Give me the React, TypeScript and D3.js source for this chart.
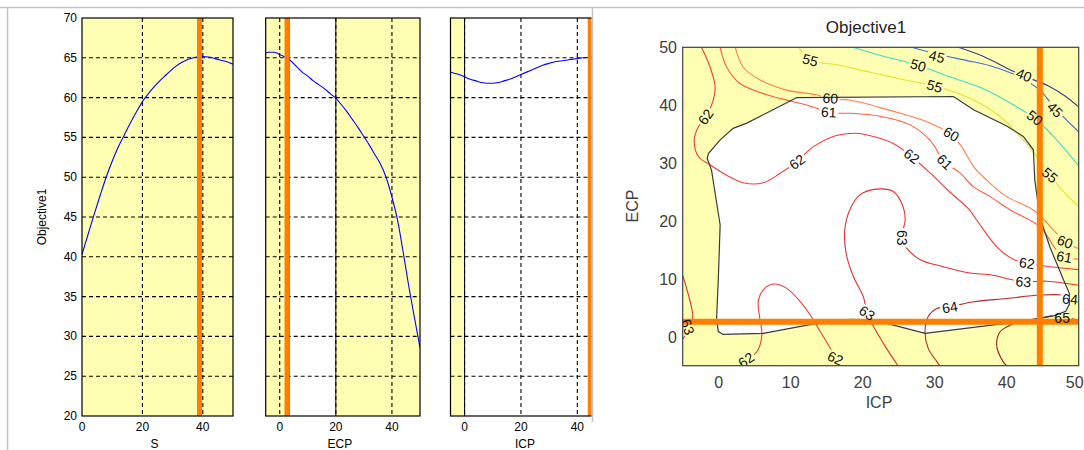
import React from 'react';
import * as d3 from 'd3';

const W = 1084;
const H = 450;

// current factor settings (orange cross-hair lines)
const S_SETTING = 38.9;
const ECP_SETTING = 2.6;
const ICP_SETTING = 44.6;

const OBJ_TICKS = [20, 25, 30, 35, 40, 45, 50, 55, 60, 65, 70];
const S_TICKS = [0, 20, 40];
const ECP_TICKS = [0, 20, 40];
const ICP_TICKS = [0, 20, 40];
const MAP_TICKS = [0, 10, 20, 30, 40, 50];

// 1-D slices of Objective1
const S_VALUES = [0, 2, 4, 6, 8, 10, 12, 14, 16, 18, 20, 22, 24, 26, 28, 30, 32, 34, 36, 38, 40, 42, 44, 46, 48, 50];
const S_OBJ = [40.3, 42.8, 45.3, 47.7, 50.0, 52.0, 53.8, 55.3, 56.8, 58.2, 59.5, 60.5, 61.4, 62.2, 62.9, 63.6, 64.2, 64.6, 64.9, 65.1, 65.15, 65.1, 64.9, 64.7, 64.5, 64.2];

const ECP_VALUES = [-5, -4, -3, -2, -1, 0, 2, 4, 6, 8, 10, 12, 14, 16, 18, 20, 22, 24, 26, 28, 30, 32, 34, 36, 38, 40, 42, 44, 46, 48, 50];
const ECP_OBJ = [65.6, 65.7, 65.7, 65.7, 65.6, 65.4, 65.1, 64.6, 63.9, 63.2, 62.7, 62.1, 61.6, 61.1, 60.5, 59.9, 59.1, 58.2, 57.2, 56.2, 55.1, 54.0, 52.8, 51.6, 49.9, 47.5, 44.6, 40.6, 36.3, 32.4, 28.6];

const ICP_VALUES = [-5, -4, -2, 0, 2, 4, 6, 8, 10, 12, 14, 16, 18, 20, 22, 24, 26, 28, 30, 32, 34, 36, 38, 40, 42, 44, 46];
const ICP_OBJ = [63.2, 63.1, 62.9, 62.6, 62.3, 62.1, 61.9, 61.8, 61.8, 61.9, 62.1, 62.3, 62.6, 62.9, 63.2, 63.5, 63.8, 64.1, 64.3, 64.5, 64.6, 64.7, 64.8, 64.9, 65.0, 65.05, 65.1];

// feasible (inside boundary) ranges along each 1-D slice
const ECP_FEASIBLE = [3.3, 20];
const ICP_FEASIBLE = [0, 50];

// contour lines of Objective1 over (ICP, ECP)
const C40 = [[33.3, 50], [37, 48.3], [40, 46.4], [42.5, 45], [46, 43.2], [48.1, 41.6], [50, 39.7]];
const C45 = [[26.8, 50], [30.7, 48.7], [34.5, 47.7], [37.7, 46.8], [41.9, 44.8], [44.6, 42.6], [46.7, 39.5], [50, 35.4]];
const C50 = [[18.6, 50], [23, 48.4], [27.7, 46.9], [32.1, 44.9], [37.2, 42.6], [41.4, 39.7], [43.9, 37.7], [46.5, 34.6], [50, 29.5]];
const C55 = [[11.1, 50], [12.7, 47.8], [16.8, 46.9], [21, 45.7], [26.1, 44.3], [30, 43.3], [35.4, 40.9], [39.1, 38], [42.3, 34], [44.2, 31.1], [46, 27.9], [48.3, 24.5], [50, 22.5]];
const C60 = [[2.3, 50], [3.4, 46.6], [5.7, 44.4], [9.4, 42.6], [13.6, 41.8], [15.5, 41], [18.2, 40.9], [23.8, 39.1], [28.4, 37.4], [32.1, 35.1], [33.75, 32.8], [35.4, 29.4], [37.2, 27.1], [40, 24.2], [43.7, 21.9], [46.9, 17.9], [48.1, 16.4], [50, 15.2]];
const C61 = [[0.2, 50], [1.1, 46.6], [2.9, 43.8], [6.7, 41.8], [10.4, 40.6], [13.1, 39.7], [15.5, 38.7], [18.2, 38.6], [22.4, 38.1], [26.6, 36.6], [29.3, 34], [31.4, 30.2], [33.5, 28.3], [35.4, 25.9], [37.7, 24.2], [40.5, 21.9], [44.6, 19], [46.9, 15], [48.1, 13.8], [50, 13.4]];
const C62A = [[-2.4, 50], [-1.2, 46.6], [-0.5, 43.2], [-0.75, 40.9], [-1.8, 38], [-2.8, 36.3], [-3.4, 34], [-2.8, 31.1], [-1.2, 29.7], [1.1, 27.9], [3.4, 26.6], [6.2, 26.6], [8.5, 28.2], [10.8, 30.2], [13.1, 32.8], [15.9, 34.6], [18.2, 35.1], [19.6, 35.1], [24.25, 33.4], [26.8, 31.1], [29.35, 28.3], [32.1, 25], [34.6, 22.2], [36.6, 18.8], [38.8, 15.3], [40.9, 13.4], [42.8, 12.7], [46, 12.1], [50, 11.6]];
const C62B = [[3, -5], [3.9, -4], [5.3, -2.6], [6, 0.3], [5.7, 3.2], [5.5, 6.1], [6.2, 8.1], [7.6, 9.1], [9.4, 8.4], [11.3, 6.1], [12.7, 3.8], [14.1, 0.9], [15.5, -2], [16.2, -3.7], [17.3, -5]];
const C63A = [[-5, 10.6], [-4.4, 8.1], [-3.85, 5.5], [-3.6, 3.4], [-4, 1.5], [-4.6, 0.3], [-5, -0.4]];
const C63B = [[24.9, -5], [23.3, -2], [21.9, 0.9], [20.6, 4.05], [20.1, 6.9], [18.7, 10.4], [17.7, 14.4], [17.5, 18.4], [18.2, 21.9], [19.6, 24.5], [21.9, 25.5], [24.25, 25.1], [25.6, 22.5], [25.9, 20.2], [25.4, 17], [26.1, 15.3], [28, 13.3], [31.2, 12.1], [34.9, 11], [37.7, 10.7], [42.3, 9.5], [45.6, 9.6], [50, 8.9]];
const C64 = [[30.7, -5], [30.3, -4.3], [29.1, -2], [28.65, 0.9], [29.1, 3.5], [30.3, 4.9], [32.1, 5.2], [35.4, 6.05], [40, 6.6], [44.6, 7.2], [47.9, 7.2], [50, 6.5]];
const C65 = [[40, -5], [39.5, -4.3], [38.6, -1.4], [39.1, 0.9], [40, 1.7], [41.8, 2.6], [44.6, 3.2], [46.5, 3.6], [48, 3.3], [50, 2.9]];

const CONTOURS = [
  { level: 40, pts: C40 }, { level: 45, pts: C45 }, { level: 50, pts: C50 }, { level: 55, pts: C55 },
  { level: 60, pts: C60 }, { level: 61, pts: C61 }, { level: 62, pts: C62A }, { level: 62, pts: C62B },
  { level: 63, pts: C63A }, { level: 63, pts: C63B }, { level: 64, pts: C64 }, { level: 65, pts: C65 },
];

const LEVEL_COLOR: Record<number, string> = {
  40: '#3b3b8e', 45: '#3f6fd8', 50: '#3fdcc8', 55: '#e2e22a', 60: '#ff7f45',
  61: '#ff5c3c', 62: '#f23c3c', 63: '#e03232', 64: '#b82a2a', 65: '#962222',
};

// feasibility boundary (ICP, ECP)
const BOUNDARY = [[10.8, 41.3], [3.9, 36.9], [2.0, 36.0], [0.2, 34.0], [-1.4, 31.7], [-1.6, 30.8], [-1.0, 28.8], [0.2, 19.3], [-0.05, 10.1], [-0.3, 2.9], [-0.05, 0.9], [0.6, 0.4], [6.2, 0.6], [13.6, 2.3], [18.2, 3.0], [21.5, 2.9], [28.65, 0.6], [41.8, 2.6], [46.5, 3.6], [48.2, 4.4], [48.7, 5.6], [48.7, 7.5], [47.9, 9.8], [46.0, 15.5], [44.6, 20.7], [43.9, 27.1], [43.7, 32.3], [42.3, 34.6], [40.0, 36.4], [35.4, 39.2], [32.6, 41.5]];

// contour labels: text, ICP, ECP, angle
const LABELS: [string, number, number, number][] = [
  ['40', 42.4, 45.2, 22],
  ['45', 30.3, 48.4, 14], ['45', 46.7, 39.2, 45],
  ['50', 27.7, 46.9, 17], ['50', 43.9, 37.8, 38],
  ['55', 12.7, 47.8, 14], ['55', 30.0, 43.3, 16], ['55', 46.0, 27.9, 40],
  ['60', 15.5, 41.2, 4], ['60', 32.3, 35.0, 30], ['60', 48.1, 16.4, 20],
  ['61', 15.3, 38.8, 3], ['61', 31.4, 30.2, 45], ['61', 48.0, 13.8, 10],
  ['62', -1.8, 38.0, -55], ['62', 10.9, 30.2, -36], ['62', 26.8, 31.2, 36], ['62', 42.8, 12.7, 8], ['62', 3.8, -4.0, -35], ['62', 16.2, -3.7, 25],
  ['63', 25.5, 17.1, 90], ['63', 20.6, 4.1, 35], ['63', 42.3, 9.5, 4], ['63', -4.3, 1.7, 70],
  ['64', 32.1, 5.1, -10], ['64', 48.8, 6.5, 5],
  ['65', 47.7, 3.2, 0],
];

const FONT = "'Liberation Sans', Arial, Helvetica, sans-serif";
const YELLOW = '#ffffb3';
const ORANGE = '#ff7f00';

type PanelDef = {
  key: string; x0: number; x1: number; domain: [number, number]; ticks: number[];
  xs: number[]; ys: number[]; setting: number; feasible: number[] | null; label: string; showY: boolean;
};

export default function App() {
  const PT = 18, PB = 416;
  const CLIP_X = 591.5;
  const yObj = d3.scaleLinear().domain([20, 70]).range([PB, PT]);

  const panels: PanelDef[] = [
    { key: 'S', x0: 82, x1: 233, domain: [0, 50], ticks: S_TICKS, xs: S_VALUES, ys: S_OBJ, setting: S_SETTING, feasible: null, label: 'S', showY: true },
    { key: 'ECP', x0: 265.7, x1: 420, domain: [-5, 50], ticks: ECP_TICKS, xs: ECP_VALUES, ys: ECP_OBJ, setting: ECP_SETTING, feasible: ECP_FEASIBLE, label: 'ECP', showY: false },
    { key: 'ICP', x0: 450.5, x1: 605.5, domain: [-5, 50], ticks: ICP_TICKS, xs: ICP_VALUES, ys: ICP_OBJ, setting: ICP_SETTING, feasible: ICP_FEASIBLE, label: 'ICP', showY: false },
  ];

  // contour map scales
  const MX0 = 682.7, MX1 = 1078.7, MY0 = 47.3, MY1 = 365.7;
  const mx = d3.scaleLinear().domain([-5, 50]).range([MX0, MX1]);
  const my = d3.scaleLinear().domain([-5, 50]).range([MY1, MY0]);
  const cLine = d3.line<number[]>().x(d => mx(d[0])).y(d => my(d[1])).curve(d3.curveCatmullRom.alpha(0.5));
  const bLine = d3.line<number[]>().x(d => mx(d[0])).y(d => my(d[1])).curve(d3.curveLinearClosed);
  const LFS = 14;

  return (
    <svg width={W} height={H} style={{ position: 'absolute', left: 0, top: 0, background: '#fff' }} fontFamily={FONT}>
      <defs>
        <clipPath id="leftClip"><rect x={0} y={0} width={CLIP_X} height={H} /></clipPath>
        <clipPath id="mapClip"><rect x={MX0} y={MY0} width={MX1 - MX0} height={MY1 - MY0} /></clipPath>
        <mask id="lblMask" maskUnits="userSpaceOnUse" x={0} y={0} width={W} height={H}>
          <rect x={0} y={0} width={W} height={H} fill="white" />
          {LABELS.map(([t, a, b, ang], i) => {
            const w = t.length * LFS * 0.58 + 3;
            const h = LFS * 0.85;
            return (
              <rect key={i} x={-w / 2} y={-h / 2} width={w} height={h} fill="black"
                transform={`translate(${mx(a)},${my(b)}) rotate(${ang})`} />
            );
          })}
        </mask>
      </defs>

      {/* frame */}
      <line x1={0} x2={W} y1={7.5} y2={7.5} stroke="#c4c4c4" strokeWidth={1.5} />
      <line x1={7.5} x2={7.5} y1={7.5} y2={H} stroke="#c4c4c4" strokeWidth={1.5} />

      {/* left: 1-D slice panels */}
      <g clipPath="url(#leftClip)">
        {panels.map(p => {
          const xs = d3.scaleLinear().domain(p.domain).range([p.x0, p.x1]);
          const line = d3.line<number>().x((_, i) => xs(p.xs[i])).y(d => yObj(d)).curve(d3.curveMonotoneX);
          const clipId = `pc-${p.key}`;
          const fx0 = p.feasible ? Math.max(p.x0, xs(p.feasible[0])) : 0;
          const fx1 = p.feasible ? Math.min(p.x1, xs(p.feasible[1])) : 0;
          return (
            <g key={p.key}>
              <defs>
                <clipPath id={clipId}><rect x={p.x0} y={PT} width={p.x1 - p.x0} height={PB - PT} /></clipPath>
              </defs>
              <rect x={p.x0} y={PT} width={p.x1 - p.x0} height={PB - PT} fill={YELLOW} />
              {p.feasible && <rect x={fx0} y={PT} width={fx1 - fx0} height={PB - PT} fill="#fff" />}
              <g clipPath={`url(#${clipId})`}>
                {OBJ_TICKS.slice(1, -1).map(t => (
                  <line key={t} x1={p.x0} x2={p.x1} y1={yObj(t)} y2={yObj(t)} stroke="#000" strokeWidth={1.1} strokeDasharray="4,3" />
                ))}
                {p.ticks.filter(t => t > p.domain[0] && t < p.domain[1]).map(t => (
                  <line key={t} x1={xs(t)} x2={xs(t)} y1={PT} y2={PB} stroke="#000" strokeWidth={1.1} strokeDasharray="4,3" />
                ))}
                {p.feasible && p.feasible.filter(v => v > p.domain[0] && v < p.domain[1]).map(v => (
                  <line key={v} x1={xs(v)} x2={xs(v)} y1={PT} y2={PB} stroke="#000" strokeWidth={1} />
                ))}
                <path d={line(p.ys) || ''} fill="none" stroke="#0000ff" strokeWidth={1.1} />
                <line x1={xs(p.setting)} x2={xs(p.setting)} y1={PT} y2={PB} stroke={ORANGE} strokeWidth={5} />
              </g>
              <rect x={p.x0} y={PT} width={p.x1 - p.x0} height={PB - PT} fill="none" stroke="#000" strokeWidth={1.2} />
              {p.ticks.map(t => (
                <text key={t} x={xs(t)} y={431} fontSize={12} textAnchor="middle" fill="#000">{t}</text>
              ))}
              <text x={(p.x0 + p.x1) / 2 - 3} y={448} fontSize={12} textAnchor="middle" fill="#000">{p.label}</text>
              {p.showY && OBJ_TICKS.map(t => (
                <text key={t} x={77} y={yObj(t) + 4} fontSize={12} textAnchor="end" fill="#000">{t}</text>
              ))}
            </g>
          );
        })}
        <text transform={`translate(46,217) rotate(-90)`} fontSize={12} textAnchor="middle" fill="#000">Objective1</text>
      </g>
      <line x1={592.5} x2={592.5} y1={7.5} y2={422} stroke="#c4c4c4" strokeWidth={1.5} />

      {/* right: contour map */}
      <text x={866} y={33} fontSize={17} textAnchor="middle" fill="#222">Objective1</text>
      <rect x={MX0} y={MY0} width={MX1 - MX0} height={MY1 - MY0} fill={YELLOW} />
      <g clipPath="url(#mapClip)">
        <path d={bLine(BOUNDARY) || ''} fill="#fff" stroke="none" />
        <g mask="url(#lblMask)">
          {CONTOURS.map((c, i) => (
            <path key={i} d={cLine(c.pts) || ''} fill="none" stroke={LEVEL_COLOR[c.level]} strokeWidth={1.1} />
          ))}
        </g>
        <path d={bLine(BOUNDARY) || ''} fill="none" stroke="#3a3a3a" strokeWidth={1.2} />
        <line x1={mx(ICP_SETTING)} x2={mx(ICP_SETTING)} y1={MY0} y2={MY1} stroke={ORANGE} strokeWidth={6} />
        <line x1={MX0} x2={MX1} y1={my(ECP_SETTING)} y2={my(ECP_SETTING)} stroke={ORANGE} strokeWidth={6} />
        {LABELS.map(([t, a, b, ang], i) => (
          <text key={i} transform={`translate(${mx(a)},${my(b)}) rotate(${ang})`} fontSize={LFS} textAnchor="middle"
            dominantBaseline="central" fill="#111">{t}</text>
        ))}
      </g>
      <rect x={MX0} y={MY0} width={MX1 - MX0} height={MY1 - MY0} fill="none" stroke="#404040" strokeWidth={1.2} />
      {MAP_TICKS.map(t => (
        <text key={`x${t}`} x={t === 50 ? mx(t) - 4 : mx(t)} y={388} fontSize={16} textAnchor="middle" fill="#404040">{t}</text>
      ))}
      {MAP_TICKS.map(t => (
        <text key={`y${t}`} x={677} y={my(t) + 6} fontSize={16} textAnchor="end" fill="#404040">{t}</text>
      ))}
      <text x={879} y={408} fontSize={16} textAnchor="middle" fill="#404040">ICP</text>
      <text transform={`translate(638,206) rotate(-90)`} fontSize={16} textAnchor="middle" fill="#404040">ECP</text>
    </svg>
  );
}
